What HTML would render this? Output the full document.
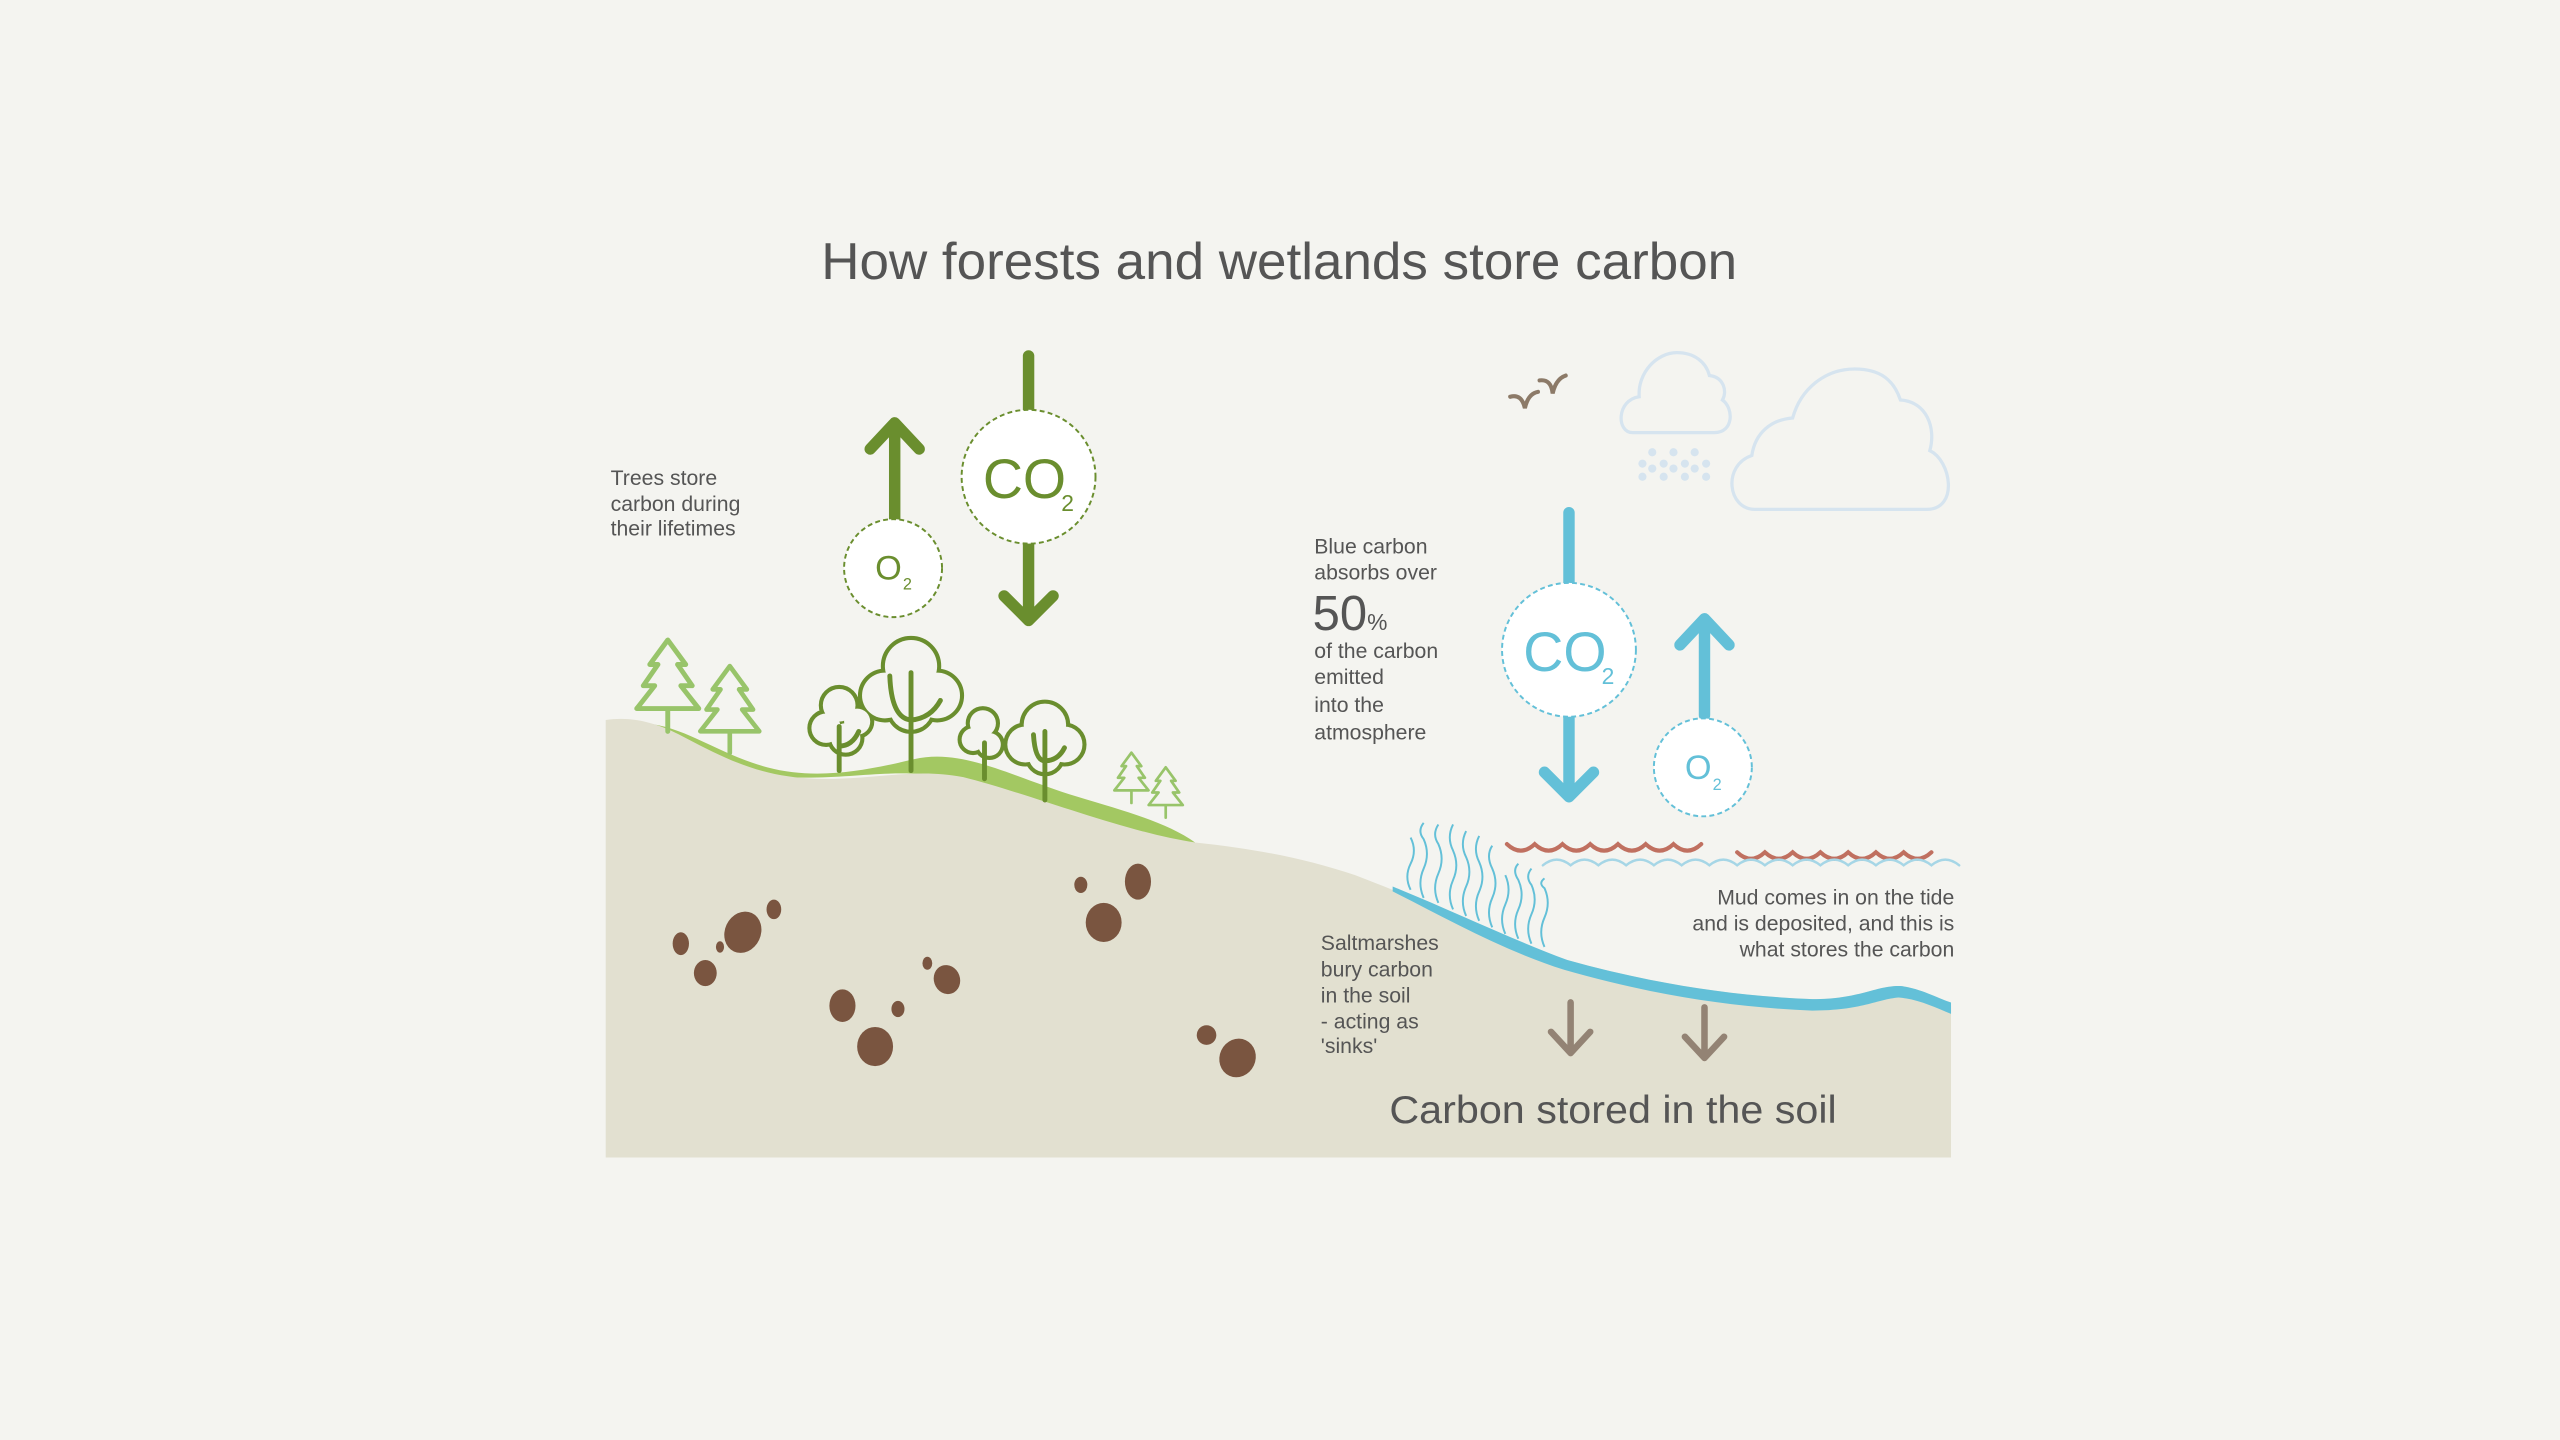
<!DOCTYPE html>
<html><head><meta charset="utf-8"><style>
html,body{margin:0;padding:0;background:#f4f4f0;}
svg{display:block;}
text{font-family:"Liberation Sans",sans-serif;fill:#555;}
</style></head><body>
<svg width="2560" height="1440" viewBox="0 0 1568 882" xmlns="http://www.w3.org/2000/svg">
<rect width="1568" height="882" fill="#f4f4f0"/>
<text x="783.5" y="171" font-size="32" text-anchor="middle" textLength="561" lengthAdjust="spacingAndGlyphs">How forests and wetlands store carbon</text>

<path d="M395,443 C420,445 440,462 470,470 C500,478 530,472 560,465 C590,458 620,476 660,488 C690,497 715,504 732,516 L700,515 C660,500 620,485 580,476 C545,470 520,478 480,476 C450,472 420,455 395,443 Z" fill="#a3c862"/>
<path d="M371,441 C385,439 400,441 420,452 C450,468 470,476 500,477 C535,478 560,470 590,476 C630,486 690,510 732,516 C770,520 800,526 830,536 C880,555 920,575 960,588 C1010,602 1060,610 1110,612 C1140,612 1150,603 1165,604 C1178,606 1188,612 1195,616 L1195,709 L371,709 Z" fill="#e2e0d0"/>
<path d="M853,543 C890,558 925,575 960,588 C1010,602 1060,610 1110,612 C1140,612 1150,603 1165,604 C1178,606 1188,612 1195,614 L1195,621 C1185,617 1175,612 1163,611 C1150,612 1140,619 1110,619 C1060,617 1010,609 958,594 C920,582 885,562 853,546 Z" fill="#63c0d8"/>

<g fill="#7a5540">
<ellipse cx="455" cy="571" rx="11" ry="13" transform="rotate(25 455 571)"/>
<ellipse cx="474" cy="557" rx="4.5" ry="6"/>
<ellipse cx="441" cy="580" rx="2.5" ry="3.5"/>
<ellipse cx="417" cy="578" rx="5" ry="7"/>
<ellipse cx="432" cy="596" rx="7" ry="8"/>
<ellipse cx="516" cy="616" rx="8" ry="10"/>
<ellipse cx="536" cy="641" rx="11" ry="12"/>
<ellipse cx="550" cy="618" rx="4" ry="5"/>
<ellipse cx="568" cy="590" rx="3" ry="4"/>
<ellipse cx="580" cy="600" rx="8" ry="9" transform="rotate(-20 580 600)"/>
<ellipse cx="662" cy="542" rx="4" ry="5"/>
<ellipse cx="697" cy="540" rx="8" ry="11"/>
<ellipse cx="676" cy="565" rx="11" ry="12"/>
<ellipse cx="739" cy="634" rx="6" ry="6"/>
<ellipse cx="758" cy="648" rx="11" ry="12" transform="rotate(25 758 648)"/>
</g>

<defs>
<g id="con"><path d="M0,0 L11,15 L6,15 L15,28 L8,28 L19,42 L-19,42 L-8,28 L-15,28 L-6,15 L-11,15 Z M0,42 L0,56" fill="#f4f4f0" stroke="#98c46a" stroke-width="3" stroke-linejoin="round" stroke-linecap="round"/></g>
</defs>
<use href="#con" transform="translate(409,392)"/>
<use href="#con" transform="translate(447,408) scale(0.95)"/>
<use href="#con" transform="translate(693,461) scale(0.55)"/>
<use href="#con" transform="translate(714,470) scale(0.55)"/>

<g stroke="#6a8e2e" stroke-width="5" fill="#6a8e2e">
<circle cx="558" cy="408" r="16"/><circle cx="542" cy="426" r="14"/><circle cx="574" cy="426" r="14"/><circle cx="558" cy="434" r="13"/>
<circle cx="514" cy="432" r="10"/><circle cx="506" cy="446" r="9"/><circle cx="518" cy="452" r="9"/><circle cx="525" cy="442" r="8"/>
<circle cx="602" cy="443" r="8"/><circle cx="596" cy="453" r="7"/><circle cx="606" cy="456" r="7"/>
<circle cx="640" cy="444" r="13"/><circle cx="628" cy="456" r="11"/><circle cx="652" cy="456" r="11"/><circle cx="640" cy="463" r="10"/>
</g>
<g fill="#f4f4f0">
<circle cx="558" cy="408" r="16"/><circle cx="542" cy="426" r="14"/><circle cx="574" cy="426" r="14"/><circle cx="558" cy="434" r="13"/>
<circle cx="514" cy="432" r="10"/><circle cx="506" cy="446" r="9"/><circle cx="518" cy="452" r="9"/><circle cx="525" cy="442" r="8"/>
<circle cx="602" cy="443" r="8"/><circle cx="596" cy="453" r="7"/><circle cx="606" cy="456" r="7"/>
<circle cx="640" cy="444" r="13"/><circle cx="628" cy="456" r="11"/><circle cx="652" cy="456" r="11"/><circle cx="640" cy="463" r="10"/>
</g>
<g stroke="#6a8e2e" stroke-width="3" fill="none" stroke-linecap="round">
<path d="M558,412 L558,472 M545,414 Q546,440 558,441 Q570,440 576,429"/>
<path d="M514,445 L514,472 M514,457 Q522,457 526,448"/>
<path d="M603,455 L603,477"/>
<path d="M640,448 L640,490 M633,450 Q634,466 640,466 Q648,466 652,458"/>
</g>

<g stroke="#6a8e2e" stroke-width="7" fill="none" stroke-linecap="round" stroke-linejoin="round">
<path d="M548,318 L548,260 M533,275 L548,259 L563,275"/>
<path d="M630,218 L630,252 M630,333 L630,380 M615,365 L630,380 L645,365"/>
</g>
<circle cx="630" cy="292" r="41" fill="#fff" stroke="#6a8e2e" stroke-width="1.2" stroke-dasharray="3,2"/>
<circle cx="547" cy="348" r="30" fill="#fff" stroke="#6a8e2e" stroke-width="1.2" stroke-dasharray="3,2"/>
<text x="602" y="305" font-size="34" style="fill:#6a8e2e">CO</text>
<text x="650" y="313" font-size="14" style="fill:#6a8e2e">2</text>
<text x="536" y="355" font-size="21" style="fill:#6a8e2e">O</text>
<text x="553" y="361" font-size="10" style="fill:#6a8e2e">2</text>

<g stroke="#63c0d8" stroke-width="7" fill="none" stroke-linecap="round" stroke-linejoin="round">
<path d="M961,314 L961,357 M961,440 L961,488 M946,473 L961,488 L976,473"/>
<path d="M1044,438 L1044,380 M1029,395 L1044,379 L1059,395"/>
</g>
<circle cx="961" cy="398" r="41" fill="#fff" stroke="#63c0d8" stroke-width="1.2" stroke-dasharray="3,2"/>
<circle cx="1043" cy="470" r="30" fill="#fff" stroke="#63c0d8" stroke-width="1.2" stroke-dasharray="3,2"/>
<text x="933" y="411" font-size="34" style="fill:#63c0d8">CO</text>
<text x="981" y="419" font-size="14" style="fill:#63c0d8">2</text>
<text x="1032" y="477" font-size="21" style="fill:#63c0d8">O</text>
<text x="1049" y="484" font-size="10" style="fill:#63c0d8">2</text>

<g stroke="#8c7a68" stroke-width="2.5" fill="none" stroke-linecap="round">
<path d="M925,243 Q932,241 934,250 Q936,241 942,240"/>
<path d="M943,233 Q950,232 951,241 Q953,232 959,230"/>
</g>
<g stroke="#d6e4ef" stroke-width="2" fill="none">
<path d="M1000,265 C990,265 990,245 1004,243 C1003,228 1015,216 1027,216 C1038,216 1045,222 1047,230 C1056,231 1058,240 1055,245 C1062,250 1062,265 1050,265 Z"/>
<path d="M1075,312 C1058,312 1055,285 1073,279 C1075,265 1085,257 1098,256 C1103,238 1118,226 1136,226 C1152,226 1160,233 1164,245 C1180,246 1186,262 1182,276 C1195,282 1200,312 1180,312 Z"/>
</g>
<g fill="#d6e4ef">
<circle cx="1012" cy="277" r="2.5"/><circle cx="1025" cy="277" r="2.5"/><circle cx="1038" cy="277" r="2.5"/>
<circle cx="1006" cy="284" r="2.5"/><circle cx="1019" cy="284" r="2.5"/><circle cx="1032" cy="284" r="2.5"/><circle cx="1045" cy="284" r="2.5"/>
<circle cx="1012" cy="287" r="2.5"/><circle cx="1025" cy="287" r="2.5"/><circle cx="1038" cy="287" r="2.5"/>
<circle cx="1006" cy="292" r="2.5"/><circle cx="1019" cy="292" r="2.5"/><circle cx="1032" cy="292" r="2.5"/><circle cx="1045" cy="292" r="2.5"/>
</g>

<g fill="none" stroke-linecap="round">
<path d="M923,517 q8.5,8 17,0 q8.5,8 17,0 q8.5,8 17,0 q8.5,8 17,0 q8.5,8 17,0 q8.5,8 17,0 q8.5,8 17,0" stroke="#c07060" stroke-width="2.5"/>
<path d="M1064,522 q8.5,8 17,0 q8.5,8 17,0 q8.5,8 17,0 q8.5,8 17,0 q8.5,8 17,0 q8.5,8 17,0 q8.5,8 17,0" stroke="#c07060" stroke-width="2.5"/>
<path d="M945,530 q8.5,-7 17,0 q8.5,-7 17,0 q8.5,-7 17,0 q8.5,-7 17,0 q8.5,-7 17,0 q8.5,-7 17,0 q8.5,-7 17,0 q8.5,-7 17,0 q8.5,-7 17,0 q8.5,-7 17,0 q8.5,-7 17,0 q8.5,-7 17,0 q8.5,-7 17,0 q8.5,-7 17,0 q8.5,-7 17,0" stroke="#a6d6e6" stroke-width="1.5"/>
</g>
<g fill="none" stroke="#63c0d8" stroke-width="1.2">
<path d="M864,545 q-4,-8 0,-16 q4,-8 0,-16"/>
<path d="M872,550 q-4,-9 0,-18 q4,-9 0,-18 q-4,-5 0,-10"/>
<path d="M881,553 q-4,-9 0,-18 q4,-9 0,-18 q-4,-6 0,-12"/>
<path d="M890,557 q-4,-9 0,-18 q4,-9 0,-18 q-4,-8 0,-16"/>
<path d="M898,561 q-4,-9 0,-18 q4,-9 0,-18 q-4,-8 0,-16"/>
<path d="M906,564 q-4,-9 0,-18 q4,-9 0,-18 q-4,-8 0,-16"/>
<path d="M914,568 q-4,-9 0,-18 q4,-9 0,-18 q-4,-8 0,-14"/>
<path d="M922,572 q-4,-9 0,-18 q4,-9 0,-18"/>
<path d="M930,575 q-4,-9 0,-18 q4,-9 0,-18 q-4,-6 0,-10"/>
<path d="M938,578 q-4,-9 0,-18 q4,-9 0,-18 q-4,-5 0,-10"/>
<path d="M946,580 q-4,-9 0,-18 q4,-9 0,-18 q-4,-3 0,-6"/>
</g>
<g stroke="#938374" stroke-width="4" fill="none" stroke-linecap="round" stroke-linejoin="round">
<path d="M962,614 L962,645 M950,632 L962,645 L974,632"/>
<path d="M1044,617 L1044,648 M1032,635 L1044,648 L1056,635"/>
</g>

<g font-size="13">
<text x="374" y="297">Trees store</text>
<text x="374" y="313">carbon during</text>
<text x="374" y="328">their lifetimes</text>
<text x="805" y="339">Blue carbon</text>
<text x="805" y="355">absorbs over</text>
<text x="805" y="403">of the carbon</text>
<text x="805" y="419">emitted</text>
<text x="805" y="436">into the</text>
<text x="805" y="453">atmosphere</text>
<text x="809" y="582">Saltmarshes</text>
<text x="809" y="598">bury carbon</text>
<text x="809" y="614">in the soil</text>
<text x="809" y="630">- acting as</text>
<text x="809" y="645">'sinks'</text>
<text x="1197" y="554" text-anchor="end">Mud comes in on the tide</text>
<text x="1197" y="570" text-anchor="end">and is deposited, and this is</text>
<text x="1197" y="586" text-anchor="end">what stores the carbon</text>
</g>
<text x="804" y="386" font-size="30">50<tspan font-size="14">%</tspan></text>
<text x="851" y="688" font-size="24" textLength="274" lengthAdjust="spacingAndGlyphs">Carbon stored in the soil</text>
</svg>
</body></html>
